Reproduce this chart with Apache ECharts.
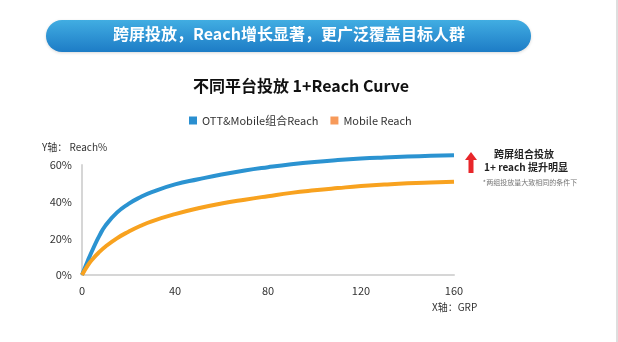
<!DOCTYPE html>
<html>
<head>
<meta charset="utf-8">
<script src="https://cdn.jsdelivr.net/npm/echarts@6/dist/echarts.min.js"></script>
<style>html,body{margin:0;padding:0;background:#fff;}#c{width:618px;height:342px;}</style>
</head>
<body>
<div id="c"></div>
<script>
var grp = [0, 2.5, 5, 7.5, 10, 15, 20, 25, 30, 40, 50, 60, 70, 80, 90, 100, 110, 120, 130, 140, 150, 160];
var ottMobile = [0, 7.8, 15, 21.5, 26.8, 34, 38.8, 42.4, 45.2, 49.4, 52.2, 54.8, 57, 58.8, 60.4, 61.7, 62.7, 63.5, 64.1, 64.6, 65, 65.3];
var mobile = [0, 5.3, 9.3, 12.6, 15.4, 20, 23.6, 26.7, 29.3, 33.2, 36.4, 39, 41.1, 43, 44.8, 46.2, 47.4, 48.5, 49.3, 50, 50.5, 50.9];
var xTicks = [0, 40, 80, 120, 160];
var yTicks = [0, 20, 40, 60];
var seriesNames = ['OTT&Mobile组合Reach', 'Mobile Reach'];
var bannerText = '跨屏投放，Reach增长显著，更广泛覆盖目标人群';
var chartTitle = '不同平台投放 1+Reach Curve';

var FONT = '"Noto Sans CJK SC", "Noto Sans", sans-serif';
function pairs(xs, ys){ return xs.map(function(x,i){ return [x, ys[i]]; }); }

var chart = echarts.init(document.getElementById('c'), null, {renderer:'canvas'});
chart.setOption({
  animation: false,
  textStyle: {fontFamily: FONT},
  title: {
    text: chartTitle, left: 296, top: 73, textAlign: 'center',
    textStyle: {fontSize: 16, fontWeight: 'bold', color: '#111', fontFamily: FONT}
  },
  legend: {
    top: 110, left: 184, itemWidth: 8, itemHeight: 8, itemGap: 12, icon: 'rect',
    textStyle: {fontSize: 11, color: '#333', fontFamily: FONT},
    data: [
      {name: seriesNames[0], itemStyle: {color: '#2a8fd0'}},
      {name: seriesNames[1], itemStyle: {color: '#f79a5a'}}
    ]
  },
  grid: {left: 82, right: 164, top: 165, bottom: 67},
  xAxis: {
    type: 'value', min: 0, max: 160, interval: 40,
    axisLine: {show: true, lineStyle: {color: '#d6d6d6', width: 2}},
    axisTick: {show: false}, splitLine: {show: false},
    axisLabel: {color: '#333', fontSize: 11, margin: 10, fontFamily: FONT,
      formatter: function(v){ return xTicks.indexOf(v) >= 0 ? String(v) : ''; }}
  },
  yAxis: {
    type: 'value', min: 0, max: 60, interval: 20,
    axisLine: {show: true, lineStyle: {color: '#d6d6d6', width: 2}},
    axisTick: {show: false}, splitLine: {show: false},
    axisLabel: {color: '#333', fontSize: 11, margin: 10, fontFamily: FONT,
      formatter: function(v){ return yTicks.indexOf(v) >= 0 ? v + '%' : ''; }}
  },
  series: [
    {name: seriesNames[0], type: 'line', smooth: 0.5, showSymbol: false, clip: false,
     data: pairs(grp, ottMobile), lineStyle: {color: '#2b93d1', width: 4}, itemStyle: {color: '#2a8fd0'}},
    {name: seriesNames[1], type: 'line', smooth: 0.5, showSymbol: false, clip: false,
     data: pairs(grp, mobile), lineStyle: {color: '#f8a21f', width: 4}, itemStyle: {color: '#f79a5a'}}
  ],
  graphic: [
    {type: 'rect', shape: {x: 46, y: 20, width: 485, height: 32, r: 16},
     style: {fill: new echarts.graphic.LinearGradient(0, 0, 0, 1, [
       {offset: 0, color: '#41ade2'}, {offset: 1, color: '#1d7cc6'}]),
       shadowBlur: 3, shadowColor: 'rgba(0,0,0,0.15)', shadowOffsetY: 1}},
    {type: 'text', left: 288 - 175, top: 26, style: {text: bannerText, fill: '#fff',
      font: 'bold 16px ' + FONT, width: 350, align: 'center'}},
    {type: 'text', x: 42, y: 142, style: {text: 'Y轴： Reach%', fill: '#333', font: '10px ' + FONT}},
    {type: 'text', x: 432, y: 302, style: {text: 'X轴：GRP', fill: '#333', font: '10px ' + FONT}},
    {type: 'polygon', shape: {points: [[471, 152], [477, 160], [473.5, 160], [473.5, 173], [468.5, 173], [468.5, 160], [465, 160]]},
     style: {fill: '#e8262a'}},
    {type: 'text', x: 524, y: 149, style: {text: '跨屏组合投放', fill: '#222', font: 'bold 10px ' + FONT, align: 'center'}},
    {type: 'text', x: 526, y: 162, style: {text: '1+ reach 提升明显', fill: '#222', font: 'bold 10px ' + FONT, align: 'center'}},
    {type: 'text', x: 530, y: 179, style: {text: '*两组投放量大致相同的条件下', fill: '#777', font: '7px ' + FONT, align: 'center'}},
    {type: 'rect', shape: {x: 616, y: 0, width: 2, height: 342}, style: {fill: '#dedede'}}
  ]
});
</script>
</body>
</html>
